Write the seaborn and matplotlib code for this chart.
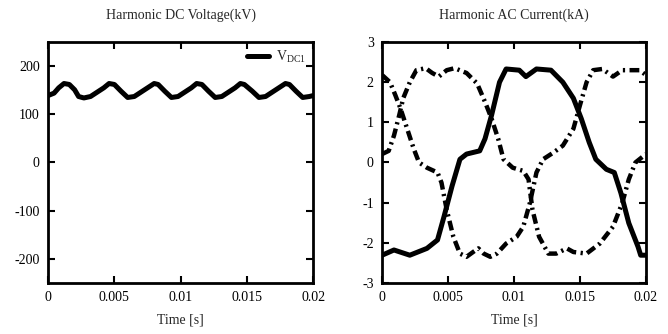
import numpy as np
import pandas as pd
import matplotlib
matplotlib.use("Agg")
import matplotlib.pyplot as plt
import seaborn as sns

# ---- data ----
t_dc = [0, 0.00045, 0.0008, 0.0012, 0.0016, 0.002, 0.0023, 0.0027, 0.0032, 0.0037, 0.0042,
        0.0046, 0.005, 0.0055, 0.006, 0.0065, 0.007, 0.0075, 0.008, 0.0083, 0.0088, 0.0093,
        0.0098, 0.0103, 0.0108, 0.0112, 0.0116, 0.0121, 0.0126, 0.0131, 0.0136, 0.0141,
        0.0145, 0.0148, 0.0154, 0.0159, 0.0164, 0.0169, 0.0174, 0.0179, 0.0182, 0.0187,
        0.0192, 0.0197, 0.02]
v_dc = [139, 144, 155, 164, 162, 151, 137, 134, 137, 146, 155,
        164, 162, 148, 135, 137, 146, 155, 164, 162, 148, 135,
        137, 146, 155, 164, 162, 148, 135, 137, 146, 155,
        164, 162, 148, 135, 137, 146, 155, 164, 162, 148,
        135, 137, 139]

t_a = [0, 0.0009, 0.0021, 0.0034, 0.0042, 0.0047, 0.0053, 0.0059, 0.0064, 0.0074, 0.0078,
       0.0083, 0.0089, 0.0094, 0.0104, 0.0109, 0.0117, 0.0128, 0.0137, 0.0145, 0.0151,
       0.0157, 0.0162, 0.017, 0.0176, 0.0181, 0.0187, 0.0194, 0.0196, 0.02]
i_a = [-2.31, -2.18, -2.31, -2.14, -1.93, -1.34, -0.59, 0.08, 0.21, 0.29, 0.59,
       1.18, 2.0, 2.33, 2.3, 2.14, 2.33, 2.3, 2.0, 1.6, 1.09,
       0.5, 0.08, -0.17, -0.25, -0.76, -1.51, -2.1, -2.31, -2.31]

t_b = [0, 0.0006, 0.001, 0.0014, 0.0019, 0.0024, 0.0028, 0.0034, 0.0042, 0.0045, 0.0049,
       0.0054, 0.0059, 0.0064, 0.0069, 0.0073, 0.0077, 0.0082, 0.0087, 0.0094, 0.0102,
       0.0107, 0.0112, 0.0117, 0.0122, 0.013, 0.0137, 0.0145, 0.015, 0.0155, 0.016,
       0.0167, 0.0175, 0.0182, 0.0195, 0.02]
i_b = [2.18, 2.0, 1.68, 1.34, 0.84, 0.34, 0.0, -0.13, -0.25, -0.5, -1.18,
       -1.85, -2.27, -2.35, -2.23, -2.14, -2.27, -2.35, -2.27, -2.02, -1.85,
       -1.6, -1.01, -0.25, 0.08, 0.25, 0.42, 0.84, 1.43, 2.0, 2.3,
       2.33, 2.14, 2.3, 2.3, 2.18]

t_c = [0, 0.0005, 0.0009, 0.0013, 0.0016, 0.0021, 0.0026, 0.0033, 0.0038, 0.0043, 0.0049,
       0.0055, 0.0064, 0.0072, 0.0078, 0.0083, 0.0088, 0.0092, 0.0099, 0.0107, 0.0111,
       0.0114, 0.0119, 0.0126, 0.0132, 0.014, 0.0145, 0.0155, 0.0165, 0.0175, 0.0182,
       0.0187, 0.0192, 0.02]
i_c = [0.21, 0.29, 0.67, 1.18, 1.6, 2.0, 2.3, 2.35, 2.23, 2.14, 2.3,
       2.35, 2.23, 1.97, 1.51, 1.09, 0.59, 0.08, -0.13, -0.21, -0.42,
       -1.18, -1.85, -2.27, -2.27, -2.14, -2.23, -2.27, -2.02, -1.6, -1.01,
       -0.42, 0.0, 0.21]

x_ticks = [0, 0.005, 0.01, 0.015, 0.02]
x_ticklabels = ["0", "0.005", "0.01", "0.015", "0.02"]
dc_yticks = [-200, -100, 0, 100, 200]
ac_yticks = [-3, -2, -1, 0, 1, 2, 3]

sns.set_style("ticks")
plt.rcParams['font.family'] = ['Liberation Serif', 'DejaVu Serif']
plt.rcParams['mathtext.fontset'] = 'custom'
plt.rcParams['mathtext.rm'] = 'Liberation Serif'
plt.rcParams['mathtext.it'] = 'Liberation Serif:italic'

fig = plt.figure(figsize=(6.68, 3.34), dpi=100)
ax1 = fig.add_axes([0.072, 0.153, 0.397, 0.721])
ax2 = fig.add_axes([0.572, 0.153, 0.395, 0.721])

dash_dot = (0, (2.2, 1.0, 0.5, 1.0))

df_dc = pd.DataFrame({"t": t_dc, "v": v_dc})
sns.lineplot(data=df_dc, x="t", y="v", ax=ax1, color="black", linewidth=3.6,
             estimator=None, label=r"V$_{\mathrm{DC1}}$")

df_a = pd.DataFrame({"t": t_a, "i": i_a})
df_b = pd.DataFrame({"t": t_b, "i": i_b})
df_c = pd.DataFrame({"t": t_c, "i": i_c})
sns.lineplot(data=df_a, x="t", y="i", ax=ax2, color="black", linewidth=3.6, estimator=None)
sns.lineplot(data=df_b, x="t", y="i", ax=ax2, color="black", linewidth=3.2,
             linestyle=dash_dot, estimator=None)
sns.lineplot(data=df_c, x="t", y="i", ax=ax2, color="black", linewidth=3.2,
             linestyle=dash_dot, estimator=None)

for ax, yt, ylim, title in [(ax1, dc_yticks, (-250, 250), "Harmonic DC Voltage(kV)"),
                            (ax2, ac_yticks, (-3, 3), "Harmonic AC Current(kA)")]:
    ax.set_xlim(0, 0.02)
    ax.set_ylim(*ylim)
    ax.set_xticks(x_ticks)
    ax.set_xticklabels(x_ticklabels)
    ax.set_yticks(yt)
    ax.set_yticklabels([f"{v}" for v in yt])
    ax.tick_params(direction="in", top=True, right=True, length=5, width=1.5,
                   labelsize=10, pad=6, colors="black")
    for s in ax.spines.values():
        s.set_linewidth(2)
        s.set_color("black")
    ax.set_xlabel("Time [s]", fontsize=10, labelpad=7)
    ax.set_ylabel("")
    ax.set_title(title, fontsize=10, pad=17)

leg = ax1.legend(loc="upper right", frameon=False, fontsize=10, handlelength=1.6,
                 borderaxespad=0.1, handletextpad=0.5)

fig.savefig("out.png", dpi=100)
